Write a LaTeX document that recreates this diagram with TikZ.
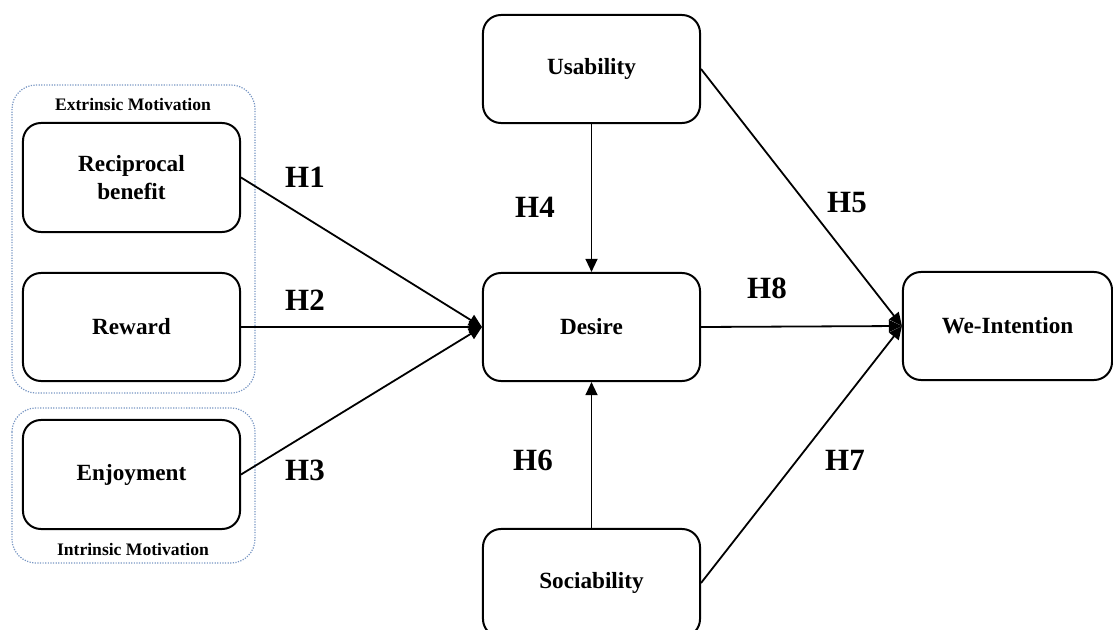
\documentclass[tikz,border=0pt]{standalone}
\usepackage{fontspec}
\setmainfont{Liberation Serif}
\usetikzlibrary{arrows.meta}
\definecolor{groupblue}{RGB}{120,150,195}
\tikzset{
	box/.style={draw, line width=0.5mm, rounded corners=4.5mm, align=center, inner sep=0pt,
		font=\bfseries\fontsize{16.5}{20}\selectfont},
	group/.style={draw=groupblue, densely dotted, line width=0.3mm, rounded corners=6mm},
	grouplabel/.style={font=\bfseries\fontsize{12.5}{14}\selectfont, inner sep=0pt},
	hyp/.style={font=\bfseries\fontsize{22}{24}\selectfont, inner sep=0pt},
	link/.style={line width=0.45mm, -{Triangle[length=3.3mm, width=3mm]}}
}

\begin{document}
\begin{tikzpicture}[x=0.025cm, y=-0.025cm]
		%%%%% START %%%%%
		\useasboundingbox (0, 0) rectangle (1113, 630);
		
		\draw[group] (12, 85) rectangle (255, 393);
		\draw[group] (12, 408) rectangle (255, 563);
		\node[grouplabel] (extlabel) at (133, 104) {Extrinsic Motivation};
		\node[grouplabel] (intlabel) at (133, 549) {Intrinsic Motivation};
		
		\node[box, minimum width=5.425cm, minimum height=2.725cm] (benefit) at (131.5, 177.5) {Reciprocal\\benefit};
		\node[box, minimum width=5.425cm, minimum height=2.7cm] (reward) at (131.5, 327) {Reward};
		\node[box, minimum width=5.425cm, minimum height=2.725cm] (enjoy) at (131.5, 474.5) {Enjoyment};
		
		\node[box, minimum width=5.425cm, minimum height=2.7cm] (usab) at (591.5, 69) {Usability};
		\node[box, minimum width=5.425cm, minimum height=2.7cm] (desire) at (591.5, 327) {Desire};
		\node[box, minimum width=5.425cm, minimum height=2.7cm] (social) at (591.5, 583) {Sociability};
		\node[box, minimum width=5.225cm, minimum height=2.7cm] (weint) at (1007.5, 326) {We-Intention};
		
		\draw[link] (benefit.east) -- (desire.west);
		\draw[link] (reward.east) -- (desire.west);
		\draw[link] (enjoy.east) -- (desire.west);
		\draw[link] (usab.south) -- (desire.north);
		\draw[link] (social.north) -- (desire.south);
		\draw[link] (usab.east) -- (weint.west);
		\draw[link] (desire.east) -- (weint.west);
		\draw[link] (social.east) -- (weint.west);
		
		\node[hyp] (h1) at (305, 177) {H1};
		\node[hyp] (h2) at (305, 300) {H2};
		\node[hyp] (h3) at (305, 470) {H3};
		\node[hyp] (h4) at (535, 207) {H4};
		\node[hyp] (h5) at (847, 203) {H5};
		\node[hyp] (h6) at (533, 460) {H6};
		\node[hyp] (h7) at (845, 460) {H7};
		\node[hyp] (h8) at (767, 288) {H8};
		%%%%% END %%%%%
	\end{tikzpicture}
\end{document}
